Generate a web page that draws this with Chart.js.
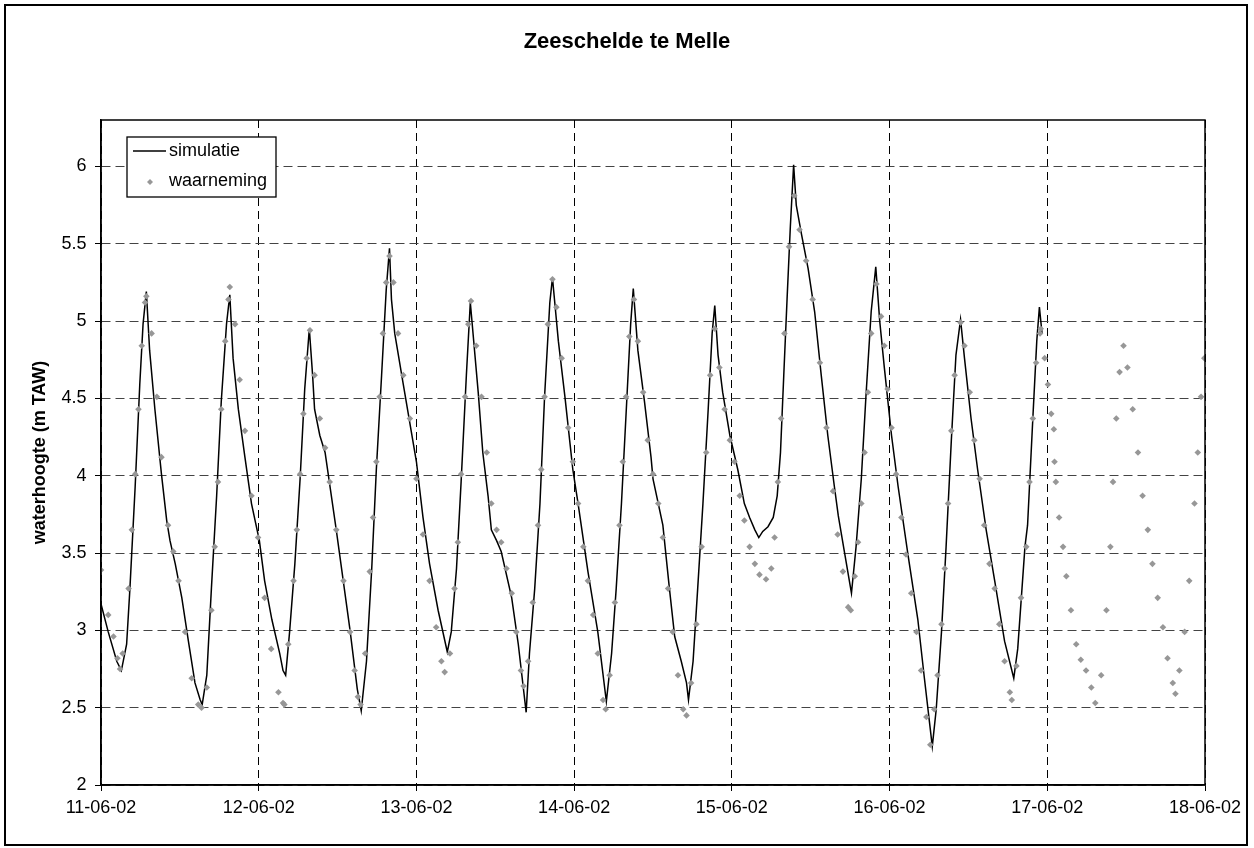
<!DOCTYPE html>
<html><head><meta charset="utf-8">
<script src="https://cdn.jsdelivr.net/npm/chart.js@4.4.1/dist/chart.umd.min.js"></script>
<style>
html,body{margin:0;padding:0;background:#fff;}
#wrap{position:relative;width:1254px;height:848px;}
#frame{position:absolute;left:4px;top:4px;width:1240px;height:838px;border:2px solid #000;pointer-events:none;}
</style></head><body>
<div id="wrap"><canvas id="c" width="1254" height="848"></canvas><div id="frame"></div></div>
<script>
// ---- data (time in hours since 11-06-02 00:00, level in m TAW) ----
const chartTitle = "Zeeschelde te Melle";
const yAxisTitle = "waterhoogte (m TAW)";
const seriesNames = ["simulatie", "waarneming"];
const xTickHours = [0, 24, 48, 72, 96, 120, 144, 168];
const xTickLabels = ["11-06-02","12-06-02","13-06-02","14-06-02","15-06-02","16-06-02","17-06-02","18-06-02"];
const yTicks = [2, 2.5, 3, 3.5, 4, 4.5, 5, 5.5, 6];

const simHours = [0.0,1.1,2.4,3.1,3.9,4.4,5.2,5.9,6.4,6.9,7.4,8.2,9.2,10.0,10.5,11.3,12.3,13.3,14.3,15.1,15.4,16.1,16.8,17.6,18.3,19.1,19.6,20.1,20.9,21.9,22.9,24.1,24.9,26.0,27.2,27.7,
 28.1,28.7,29.5,30.3,31.0,31.7,32.2,32.5,33.3,34.1,35.8,37.9,39.0,39.6,40.4,41.2,41.9,42.7,43.4,43.9,44.2,44.7,46.0,48.0,49.0,50.0,51.3,52.7,53.3,54.1,54.8,55.6,
 56.2,57.4,58.1,58.9,59.4,60.2,60.9,62.5,63.5,64.7,65.2,66.0,66.8,67.5,68.3,68.7,69.6,70.6,71.8,72.6,74.1,75.6,76.9,77.7,78.4,79.2,80.0,80.6,81.0,81.7,82.7,83.7,
 84.0,85.5,86.5,87.3,88.3,89.1,89.4,90.1,90.8,91.6,92.4,93.0,93.4,93.9,94.6,95.7,96.9,97.9,98.7,99.5,100.1,100.7,101.5,102.3,102.9,103.4,103.9,104.4,104.9,105.4,105.8,106.6,107.6,108.6,109.6,110.6,111.6,112.2,
 113.2,114.2,114.9,115.7,116.4,117.2,117.9,118.5,119.2,120.3,121.3,122.8,124.3,125.3,126.5,127.1,127.9,128.6,129.4,130.1,130.8,131.4,132.4,133.4,134.7,136.0,137.5,138.9,139.5,140.6,
 141.0,141.8,142.4,142.8,143.2];
const simLevel = [3.17,2.99,2.80,2.74,2.91,3.27,3.93,4.59,4.98,5.19,4.81,4.43,4.01,3.71,3.58,3.43,3.21,2.93,2.66,2.55,2.52,2.71,3.27,3.87,4.48,4.98,5.17,4.76,4.43,4.12,3.82,3.58,3.32,3.07,2.85,2.74,
 2.71,2.99,3.43,3.98,4.56,4.95,4.65,4.43,4.26,4.15,3.65,3.00,2.62,2.48,2.80,3.40,4.04,4.65,5.20,5.47,5.14,4.92,4.59,4.09,3.73,3.43,3.13,2.86,2.99,3.40,3.96,4.65,
 5.12,4.54,4.15,3.87,3.65,3.58,3.51,3.21,2.91,2.47,2.85,3.27,3.82,4.51,5.12,5.28,4.87,4.51,4.04,3.82,3.38,2.99,2.54,2.85,3.27,3.82,4.48,4.98,5.21,4.81,4.48,4.12,
 3.98,3.68,3.27,2.96,2.80,2.66,2.55,2.80,3.27,3.82,4.43,4.92,5.10,4.78,4.54,4.26,4.04,3.82,3.73,3.65,3.60,3.64,3.67,3.73,3.87,4.15,4.65,5.14,5.61,6.01,5.75,5.56,5.34,5.06,4.65,4.26,3.93,3.74,
 3.49,3.24,3.54,3.98,4.51,5.06,5.35,5.00,4.70,4.26,3.93,3.49,3.07,2.69,2.25,2.49,2.99,3.54,4.23,4.78,5.01,4.76,4.37,4.04,3.65,3.32,2.93,2.69,2.88,3.54,
 3.68,4.37,4.87,5.09,4.92];

const obsHours = [0.0,1.1,1.9,2.5,2.9,3.3,4.2,4.7,5.2,5.7,6.2,6.7,6.9,7.7,8.5,9.2,10.2,11.0,11.8,12.8,13.8,14.8,15.3,16.1,16.8,17.3,17.8,18.3,18.9,19.4,19.6,20.4,21.1,21.9,22.9,23.9,24.9,25.9,27.0,27.7,
 27.9,28.5,29.3,29.8,30.3,30.8,31.3,31.8,32.5,33.3,34.1,34.8,35.8,36.9,37.9,38.6,39.1,39.5,40.2,40.9,41.4,41.9,42.4,42.9,43.4,43.9,44.5,45.2,46.0,47.0,48.0,49.0,50.0,51.0,51.8,52.3,53.1,53.8,54.3,54.8,55.4,55.9,
 56.3,57.1,57.9,58.7,59.4,60.2,60.9,61.7,62.5,63.2,63.9,64.3,65.0,65.7,66.5,67.0,67.5,68.0,68.7,69.3,70.1,71.1,71.8,72.6,73.4,74.1,74.9,75.6,76.4,76.8,77.4,78.2,78.9,79.4,79.9,80.4,81.1,81.7,82.5,83.2,
 84.0,84.8,85.5,86.3,87.0,87.8,88.6,89.1,89.8,90.6,91.4,92.1,92.7,93.4,94.1,94.9,95.7,96.4,97.2,97.9,98.7,99.5,100.2,101.2,102.0,102.5,103.0,103.5,104.0,104.7,105.5,106.3,107.3,108.3,109.4,110.4,111.4,112.1,
 112.9,113.7,114.1,114.7,115.2,115.7,116.2,116.7,117.2,118.0,118.7,119.2,119.7,120.3,121.0,121.8,122.5,123.3,124.1,124.8,125.6,126.2,126.8,127.3,127.9,128.4,128.9,129.4,129.9,130.8,131.4,132.2,132.9,133.7,134.4,135.2,136.0,136.7,137.5,138.3,138.6,139.3,140.0,
 140.8,141.3,141.8,142.3,142.9,143.0,143.6,144.1,144.6,145.0,145.1,145.3,145.8,146.4,146.9,147.6,148.4,149.1,149.9,150.7,151.3,152.2,153.0,153.6,154.0,154.5,155.0,155.6,156.2,157.0,157.8,158.5,159.3,160.0,160.8,161.6,162.3,163.1,163.5,164.1,164.9,165.6,166.4,166.9,167.4,167.9];
const obsLevel = [3.39,3.10,2.96,2.82,2.75,2.85,3.27,3.65,4.01,4.43,4.84,5.12,5.16,4.92,4.51,4.12,3.68,3.51,3.32,2.99,2.69,2.52,2.50,2.63,3.13,3.54,3.96,4.43,4.87,5.14,5.22,4.98,4.62,4.29,3.87,3.60,3.21,2.88,2.60,2.53,
 2.52,2.91,3.32,3.65,4.01,4.40,4.76,4.94,4.65,4.37,4.18,3.96,3.65,3.32,2.99,2.74,2.57,2.52,2.85,3.38,3.73,4.09,4.51,4.92,5.25,5.42,5.25,4.92,4.65,4.37,3.98,3.62,3.32,3.02,2.80,2.73,2.85,3.27,3.57,4.01,4.51,4.98,
 5.13,4.84,4.51,4.15,3.82,3.65,3.57,3.40,3.24,2.99,2.74,2.64,2.80,3.18,3.68,4.04,4.51,4.98,5.27,5.09,4.76,4.31,4.09,3.82,3.54,3.32,3.10,2.85,2.55,2.49,2.71,3.18,3.68,4.09,4.51,4.90,5.14,4.87,4.54,4.23,
 4.01,3.82,3.60,3.27,2.99,2.71,2.49,2.45,2.66,3.04,3.54,4.15,4.65,4.95,4.70,4.43,4.23,4.09,3.87,3.71,3.54,3.43,3.36,3.33,3.40,3.60,3.96,4.37,4.92,5.48,5.81,5.59,5.39,5.14,4.73,4.31,3.90,3.62,
 3.38,3.15,3.13,3.35,3.57,3.82,4.15,4.54,4.92,5.24,5.03,4.84,4.56,4.31,4.01,3.73,3.49,3.24,2.99,2.74,2.44,2.26,2.49,2.71,3.04,3.40,3.82,4.29,4.65,4.99,4.84,4.54,4.23,3.98,3.68,3.43,3.27,3.04,2.80,2.60,2.55,2.77,3.21,
 3.54,3.96,4.37,4.73,4.92,4.95,4.76,4.59,4.40,4.30,4.09,3.96,3.73,3.54,3.35,3.13,2.91,2.81,2.74,2.63,2.53,2.71,3.13,3.54,3.96,4.37,4.67,4.84,4.70,4.43,4.15,3.87,3.65,3.43,3.21,3.02,2.82,2.66,2.59,2.74,2.99,3.32,3.82,4.15,4.51,4.76];

// ---- chart ----
const FONT = '"Liberation Sans", Arial, sans-serif';
Chart.defaults.color = '#000';
Chart.defaults.font.family = FONT;

const simPts = simHours.map((h, i) => ({x: h, y: simLevel[i]}));
const obsPts = obsHours.map((h, i) => ({x: h, y: obsLevel[i]}));

const OBS_COLOR = '#979797';

const framePlugin = {
  id: 'framePlugin',
  afterDraw(chart) {
    const {ctx, chartArea: a} = chart;
    ctx.save();
    ctx.strokeStyle = '#000';
    ctx.lineWidth = 1.5;
    ctx.setLineDash([]);
    ctx.strokeRect(a.left, a.top, a.right - a.left, a.bottom - a.top);
    // legend box
    const lx = 127, ly = 137, lw = 149, lh = 60;
    ctx.fillStyle = '#fff';
    ctx.fillRect(lx, ly, lw, lh);
    ctx.lineWidth = 1.3;
    ctx.strokeRect(lx, ly, lw, lh);
    ctx.beginPath();
    ctx.moveTo(133, 151); ctx.lineTo(166, 151);
    ctx.lineWidth = 1.5; ctx.strokeStyle = '#000'; ctx.stroke();
    ctx.fillStyle = OBS_COLOR;
    ctx.beginPath();
    ctx.moveTo(150, 179); ctx.lineTo(153, 182); ctx.lineTo(150, 185); ctx.lineTo(147, 182); ctx.closePath();
    ctx.fill();
    ctx.fillStyle = '#000';
    ctx.font = '18px ' + FONT;
    ctx.textBaseline = 'middle';
    ctx.textAlign = 'left';
    ctx.fillText(seriesNames[0], 169, 151);
    ctx.fillText(seriesNames[1], 169, 181);
    ctx.restore();
  }
};

new Chart(document.getElementById('c'), {
  type: 'scatter',
  data: {
    datasets: [
      {label: seriesNames[0], data: simPts, showLine: true, borderColor: '#000', borderWidth: 1.5,
       pointRadius: 0, pointHoverRadius: 0, tension: 0, order: 2},
      {label: seriesNames[1], data: obsPts, showLine: false, pointStyle: 'rectRot', pointRadius: 3.3,
       backgroundColor: OBS_COLOR, borderColor: OBS_COLOR, borderWidth: 0, order: 1}
    ]
  },
  options: {
    responsive: false,
    animation: false,
    layout: {padding: {left: 0, right: 0, top: 0, bottom: 0}},
    plugins: {
      legend: {display: false},
      tooltip: {enabled: false},
      title: {display: true, text: chartTitle, color: '#000',
              font: {size: 22, weight: 'bold'}, padding: {top: 29, bottom: 64.6}}
    },
    scales: {
      x: {
        type: 'linear', min: 0, max: 168,
        afterBuildTicks: s => { s.ticks = xTickHours.map(v => ({value: v})); },
        afterFit: s => { s.height = 63; },
        ticks: {callback: (v, i) => xTickLabels[i], font: {size: 18}, padding: 6, maxRotation: 0, autoSkip: false, color: '#000'},
        grid: {color: '#000', lineWidth: 1, tickLength: 6, tickColor: '#000'},
        border: {display: true, color: '#000', width: 1.5, dash: [8, 5]}
      },
      y: {
        min: 2, max: 6.3,
        afterBuildTicks: s => { s.ticks = yTicks.map(v => ({value: v})); },
        afterFit: s => { s.width = 101; },
        ticks: {callback: v => String(v), font: {size: 18}, padding: 8.5, color: '#000'},
        grid: {color: '#444', lineWidth: 1, tickLength: 6, tickColor: '#000'},
        border: {display: true, color: '#000', width: 1.5, dash: [9, 5]},
        title: {display: true, text: yAxisTitle, color: '#000', font: {size: 18, weight: 'bold'}, padding: {top: 29, bottom: 0}}
      },
      yRight: {
        position: 'right', min: 2, max: 6.3,
        afterFit: s => { s.width = 49; },
        ticks: {display: false},
        grid: {display: false, drawTicks: false},
        border: {display: false}
      }
    }
  },
  plugins: [framePlugin]
});
</script>
</body></html>
